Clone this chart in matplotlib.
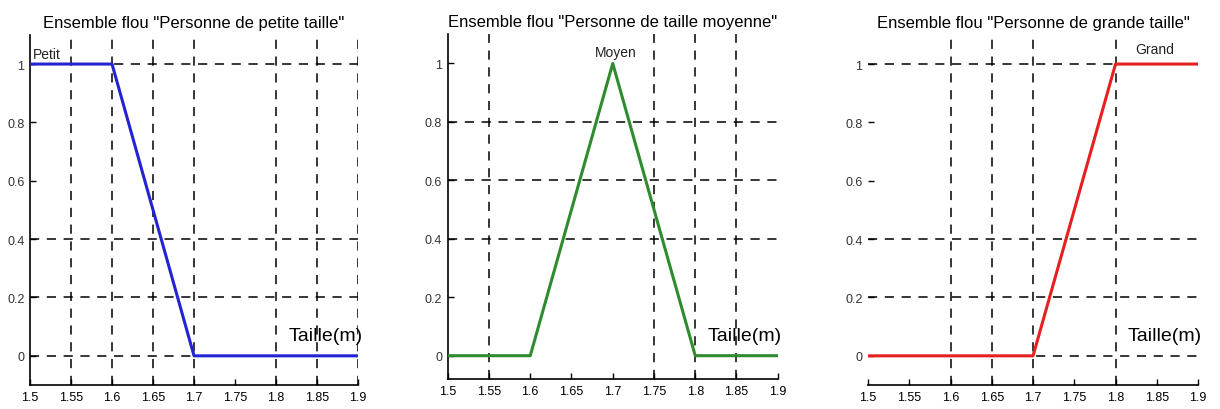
import matplotlib
matplotlib.use("Agg")
import matplotlib.pyplot as plt
from matplotlib import font_manager

# membership functions of the three fuzzy sets, sampled at the breakpoints
taille = [1.5, 1.6, 1.7, 1.8, 1.9]
petit = [1, 1, 0, 0, 0]
moyen = [0, 0, 1, 0, 0]
grand = [0, 0, 0, 1, 1]

x_ticks = [1.5, 1.55, 1.6, 1.65, 1.7, 1.75, 1.8, 1.85, 1.9]
x_labels = ["1.5", "1.55", "1.6", "1.65", "1.7", "1.75", "1.8", "1.85", "1.9"]
y_ticks = [0, 0.2, 0.4, 0.6, 0.8, 1]
y_labels = ["0", "0.2", "0.4", "0.6", "0.8", "1"]

titles = [
    'Ensemble flou "Personne de petite taille"',
    'Ensemble flou "Personne de taille moyenne"',
    'Ensemble flou "Personne de grande taille"',
]
set_names = ["Petit", "Moyen", "Grand"]
xlabel_text = "Taille(m)"

names = {f.name for f in font_manager.fontManager.ttflist}
NARROW = "Liberation Sans Narrow" if "Liberation Sans Narrow" in names else "Liberation Sans"

panels = [
    dict(y=petit, color="#2323d2", rect=[0.0246, 0.0585, 0.2689, 0.854], ylim=(-0.1, 1.1),
         vgrid=[1.55, 1.6, 1.65, 1.7, 1.8, 1.85, 1.9], hgrid=[1, 0.4, 0.2, 0],
         name_xy=(1.503, 1.035), name_ha="left", left_spine=True),
    dict(y=moyen, color="#2e8b2e", rect=[0.367, 0.073, 0.2705, 0.841], ylim=(-0.08, 1.1),
         vgrid=[1.55, 1.75, 1.8, 1.85], hgrid=[0.8, 0.6, 0.4],
         name_xy=(1.704, 1.04), name_ha="center", left_spine=True),
    dict(y=grand, color="#e62020", rect=[0.7115, 0.0585, 0.2705, 0.854], ylim=(-0.1, 1.1),
         vgrid=[1.6, 1.65, 1.7, 1.8], hgrid=[1, 0.4, 0.2, 0],
         name_xy=(1.847, 1.05), name_ha="center", left_spine=False),
]

fig = plt.figure(figsize=(12.2, 4.1), dpi=100)

for p, title, name in zip(panels, titles, set_names):
    ax = fig.add_axes(p["rect"])
    ax.set_xlim(1.5, 1.9)
    ax.set_ylim(*p["ylim"])

    for gx in p["vgrid"]:
        ax.axvline(gx, color="black", lw=1.1, ls=(0, (6, 5)), zorder=1)
    for gy in p["hgrid"]:
        ax.axhline(gy, color="black", lw=1.1, ls=(0, (6, 5)), zorder=1)

    ax.plot(taille, p["y"], color=p["color"], lw=2.2, zorder=3)

    ax.set_xticks(x_ticks)
    ax.set_xticklabels(x_labels, fontsize=9, family=NARROW)
    ax.set_yticks(y_ticks)
    ax.set_yticklabels(y_labels, fontsize=9, family=NARROW, color="#333333")
    ax.tick_params(direction="in", length=4, width=1, pad=4)

    for side in ("top", "right"):
        ax.spines[side].set_visible(False)
    ax.spines["left"].set_visible(p["left_spine"])
    ax.spines["bottom"].set_linewidth(1.2)
    ax.spines["left"].set_linewidth(1.2)

    ax.set_title(title, fontsize=12, family=NARROW, pad=6)
    ax.text(*p["name_xy"], name, ha=p["name_ha"], va="center",
            fontsize=10, family=NARROW, color="#222222")
    ax.text(1.815, 0.07, xlabel_text, ha="left", va="center",
            fontsize=14, family=NARROW)

fig.savefig("out.png", dpi=100)
